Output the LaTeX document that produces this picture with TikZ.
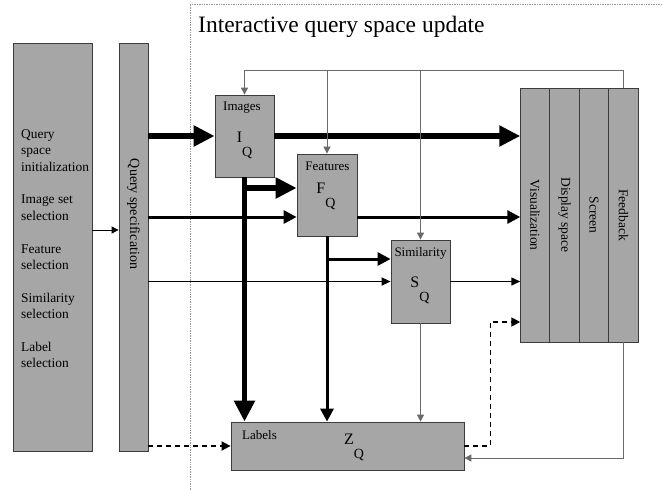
\documentclass[tikz,border=0pt]{standalone}
\usepackage{fontspec}
\setmainfont{Liberation Serif}
\usetikzlibrary{arrows.meta,positioning,calc}

\definecolor{boxgray}{RGB}{166,166,166}
\definecolor{boxline}{RGB}{60,60,60}
\definecolor{linegray}{RGB}{105,105,105}
\definecolor{framegray}{RGB}{150,150,150}

\newcommand{\symQ}[1]{#1\raisebox{-14pt}{\fontsize{14}{14}\selectfont Q}}

\begin{document}
\begin{tikzpicture}[x=1pt,y=-1pt,
            box/.style={draw=boxline,fill=boxgray,line width=0.8pt,inner sep=0pt},
            col/.style={box,outer sep=0pt,minimum width=29.5pt,minimum height=254pt},
            coltext/.style={rotate=-90,font=\fontsize{13.5}{14}\selectfont},
            boxtitle/.style={font=\fontsize{13}{14}\selectfont,inner sep=0pt},
            sym/.style={font=\fontsize{16}{16}\selectfont,inner sep=0pt},
            fat/.style={draw,line width=5.5pt,-{Triangle[length=21pt,width=20pt]}},
            mid/.style={draw,line width=3pt,-{Triangle[length=13pt,width=13pt]}},
            slim/.style={draw,line width=1.5pt,-{Triangle[length=9pt,width=8pt]}},
            fine/.style={draw=linegray,line width=0.9pt,-{Triangle[length=7pt,width=7pt]}},
            dashedarr/.style={draw,line width=1.8pt,dash pattern=on 5pt off 4pt,-{Triangle[length=9pt,width=9pt]}}
          ]
          \useasboundingbox (0,0) rectangle (662,490);

          %frame
          \draw[framegray,densely dotted,line width=0.7pt] (190,490) -- (190,4) -- (662,4);
          \node[anchor=base west,inner sep=0pt,font=\fontsize{23.5}{24}\selectfont] (heading) at (198,32) {Interactive query space update};

          %query side
          \node[box,minimum width=79pt,minimum height=408pt] (sel) at (52.5,247) {};
          \node[box,minimum width=29pt,minimum height=408pt] (qspec) at (133.5,247) {};
          \node[anchor=north west,align=left,inner sep=0pt,font=\fontsize{13.4}{16.35}\selectfont] (seltext) at (21,129.5)
            {Query\\space\\initialization\\[16.35pt]Image set\\selection\\[16.35pt]Feature\\selection\\[16.35pt]Similarity\\selection\\[16.35pt]Label\\selection};
          \node[coltext,font=\fontsize{14}{14}\selectfont] (qstext) at (133.5,214) {Query specification};

          %spaces
          \node[box,minimum width=59pt,minimum height=82pt] (images) at (244.5,136) {};
          \node[box,minimum width=60pt,minimum height=82pt] (features) at (327,195) {};
          \node[box,minimum width=59pt,minimum height=83pt] (similarity) at (420.5,281.5) {};
          \node[box,minimum width=233pt,minimum height=48pt] (labels) at (347.5,446) {};
          \node[boxtitle] (imgtitle) at (242,108) {Images};
          \node[boxtitle] (feattitle) at (327.5,166) {Features};
          \node[boxtitle] (simtitle) at (420.5,253) {Similarity};
          \node[boxtitle,anchor=west] (labtitle) at (242,435) {Labels};
          \node[sym] (iq) at (244.5,145.5) {\symQ{I}};
          \node[sym] (fq) at (326,196) {\symQ{F}};
          \node[sym] (sq) at (420,290.5) {\symQ{S}};
          \node[sym] (zq) at (354,447) {\symQ{Z}};

          %display stack
          \node[col] (vis) at (535,215) {};
          \node[col,right=0pt of vis] (disp) {};
          \node[col,right=0pt of disp] (screen) {};
          \node[col,right=0pt of screen] (feedback) {};
          \node[coltext] (vistext) at (vis) {Visualization};
          \node[coltext] (disptext) at (disp) {Display space};
          \node[coltext] (screentext) at (screen) {Screen};
          \node[coltext] (fbtext) at (feedback) {Feedback};

          \coordinate (fin) at ([yshift=-22pt]features.west);
          \coordinate (fout) at ([yshift=-22pt]features.east);
          \coordinate (fbranch) at ([yshift=7pt]features.west);
          \coordinate (sbranch) at ([yshift=22.5pt]similarity.west);
          \coordinate (vin) at ([yshift=-107pt]vis.west);
          \coordinate (fbtop) at ([yshift=18pt]feedback.north);

          %flows
          \draw[fine,draw=black] ([yshift=17pt]sel.east) -- ([yshift=17pt]qspec.west);
          \path[fat] (qspec.east |- images.west) -- (images.west);
          \path[fat] (images.east) -- (vis.west |- images.east);
          \path[fat] (images.south) -- (images.south |- labels.north);
          \path[fat] (images.south |- fbranch) -- (fbranch);
          \path[mid] (qspec.east |- fin) -- (fin);
          \path[mid] (fout) -- (vis.west |- fout);
          \path[mid] (features.south) -- (features.south |- labels.north);
          \path[mid] (features.south |- sbranch) -- (sbranch);
          \path[slim] (qspec.east |- similarity.west) -- (similarity.west);
          \path[slim] (similarity.east) -- (vis.west |- similarity.east);
          \draw[fine] (similarity.south) -- (similarity.south |- labels.north);

          %feedback
          \draw[fine] (feedback.north) -- (fbtop) -| (images.north);
          \draw[fine] (features.north |- fbtop) -- (features.north);
          \draw[fine] (similarity.north |- fbtop) -- (similarity.north);
          \draw[fine] (feedback.south) |- ([yshift=-12pt]labels.east);
          \path[dashedarr] (qspec.east |- labels.west) -- (labels.west);
          \path[dashedarr] (labels.east) -- ++(26,0) |- (vin);
      \end{tikzpicture}
\end{document}
